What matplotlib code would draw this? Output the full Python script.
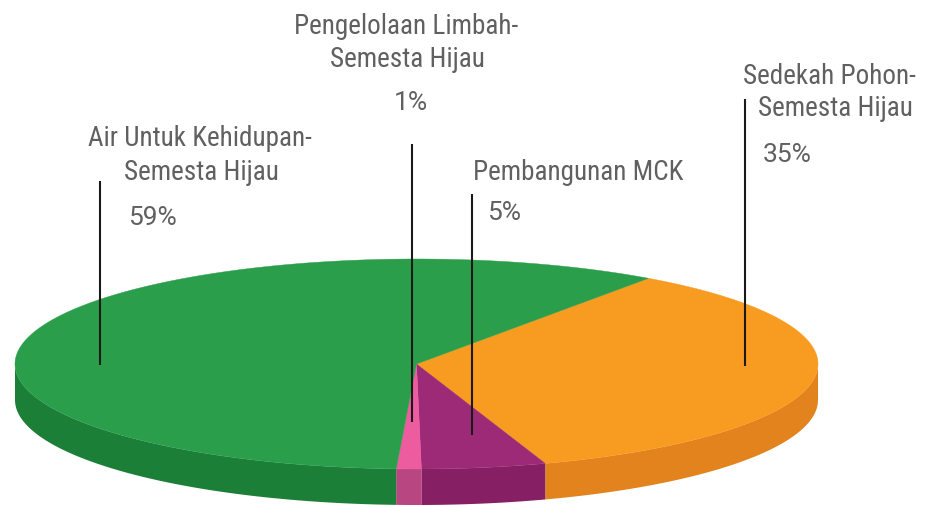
import numpy as np
import matplotlib
matplotlib.use("Agg")
import matplotlib.pyplot as plt
from matplotlib import font_manager
from matplotlib.patches import Polygon

# slices, clockwise from the green/orange border
labels = ["Sedekah Pohon-\nSemesta Hijau", "Pembangunan MCK",
          "Pengelolaan Limbah-\nSemesta Hijau", "Air Untuk Kehidupan-\nSemesta Hijau"]
values = [35, 5, 1, 59]
top_colors = ["#F89B21", "#9C2A77", "#EE5CA0", "#2A9E4B"]
side_colors = ["#E2831E", "#861F64", "#B84680", "#1C7F37"]

# pie geometry in pixels (axes = figure pixels, y down)
cx, cy, rx, ry, depth = 416.5, 365, 401.5, 105, 36
start = 54.7

names = {f.name for f in font_manager.fontManager.ttflist}
if "Roboto Condensed" in names:
    fam, fs = "Roboto Condensed", 19.5
else:
    fam, fs = "Roboto", 17
pfam, pfs = "Roboto", 19
txt_color = "#606060"

fig = plt.figure(figsize=(9.25, 5.06), dpi=100)
ax = fig.add_axes([0, 0, 1, 1])
ax.set_xlim(0, 925)
ax.set_ylim(506, 0)
ax.axis("off")

fr = np.array(values) / np.sum(values)
cum = np.concatenate([[0], np.cumsum(fr)])


def ell(t, dy=0):
    r = np.radians(t)
    return cx + rx * np.cos(r), cy - ry * np.sin(r) + dy


# side walls first
for i in range(len(values)):
    t1 = start - cum[i + 1] * 360
    t2 = start - cum[i] * 360
    tt = np.linspace(t1, t2, 600)
    tt = tt[np.sin(np.radians(tt)) <= 0]
    if len(tt) < 2:
        continue
    xs, ys = ell(tt)
    xb, yb = ell(tt[::-1], depth)
    pts = np.column_stack([np.concatenate([xs, xb]), np.concatenate([ys, yb])])
    ax.add_patch(Polygon(pts, closed=True, facecolor=side_colors[i], edgecolor="none"))

# top faces
for i in range(len(values)):
    t1 = start - cum[i + 1] * 360
    t2 = start - cum[i] * 360
    tt = np.linspace(t1, t2, 600)
    xs, ys = ell(tt)
    pts = np.column_stack([np.concatenate([[cx], xs]), np.concatenate([[cy], ys])])
    ax.add_patch(Polygon(pts, closed=True, facecolor=top_colors[i],
                         edgecolor=top_colors[i], linewidth=0.3))

# leader lines (x, top, bottom)
leaders = [(745, 100, 367), (472, 195, 436), (412, 145, 423), (100, 182, 366)]
for x, y0, y1 in leaders:
    ax.plot([x, x], [y0, y1], color="#1a1a1a", linewidth=1.5, solid_capstyle="butt")

# label text: (line x, baselines, ha), percentage (x, baseline, ha)
label_pos = [
    ((829, 835), (84, 116), "center", (763, 162, "left")),
    ((473,), (180,), "left", (487, 220, "left")),
    ((406, 407), (34, 67), "center", (411, 110, "center")),
    ((200, 201), (146, 180), "center", (128, 225, "left")),
]
for i, lab in enumerate(labels):
    xs_, ys_, ha, (px, py, pha) = label_pos[i]
    for line, x, y in zip(lab.split("\n"), xs_, ys_):
        ax.text(x, y, line, ha=ha, va="baseline", fontsize=fs, family=fam, color=txt_color)
    ax.text(px, py, f"{values[i]}%", ha=pha, va="baseline", fontsize=pfs,
            family=pfam, color=txt_color)

fig.savefig("out.png", dpi=100)
